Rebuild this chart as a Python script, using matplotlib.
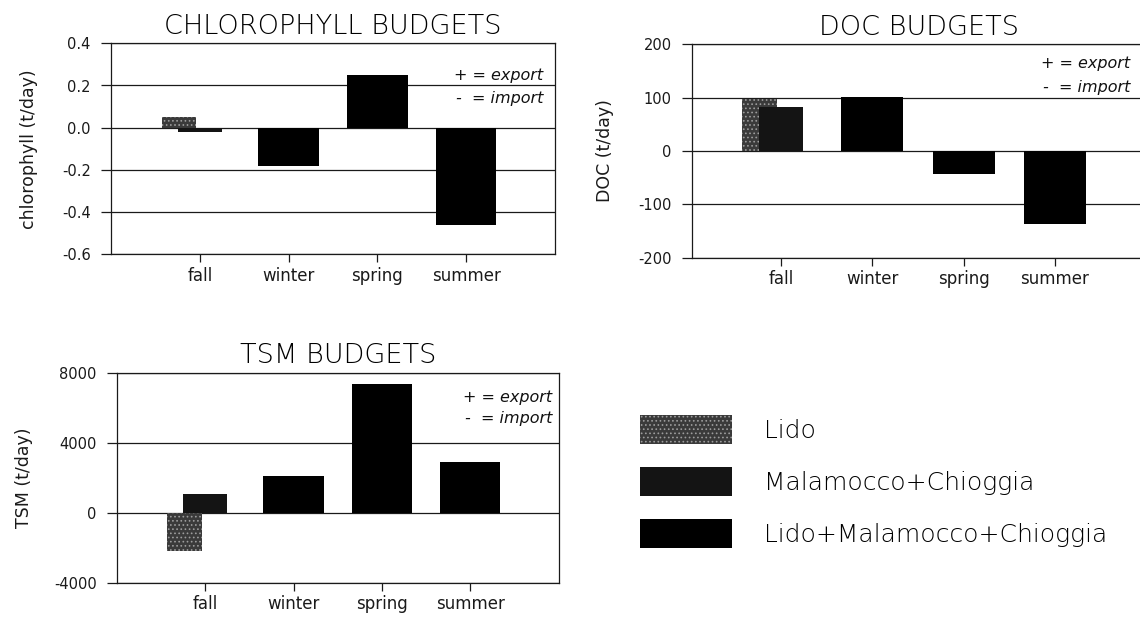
import numpy as np
import matplotlib
matplotlib.use("Agg")
import matplotlib.pyplot as plt
from matplotlib.patches import Patch

plt.rcParams["font.family"] = ["DejaVu Sans"]
plt.rcParams["hatch.linewidth"] = 0.7

# Seasonal budgets in t/day (+ = export, - = import); nan = no bar for that season
seasons = ["fall", "winter", "spring", "summer"]
series_names = ["Lido", "Malamocco+Chioggia", "Lido+Malamocco+Chioggia"]

chl_lido = [0.05, np.nan, np.nan, np.nan]
chl_malamocco_chioggia = [-0.02, np.nan, np.nan, np.nan]
chl_total = [np.nan, -0.18, 0.25, -0.46]
chl_ticks = [0.4, 0.2, 0.0, -0.2, -0.4, -0.6]
chl_tick_labels = ["0.4", "0.2", "0.0", "-0.2", "-0.4", "-0.6"]

doc_lido = [98, np.nan, np.nan, np.nan]
doc_malamocco_chioggia = [83, np.nan, np.nan, np.nan]
doc_total = [np.nan, 102, -44, -136]
doc_ticks = [200, 100, 0, -100, -200]
doc_tick_labels = ["200", "100", "0", "-100", "-200"]

tsm_lido = [-2200, np.nan, np.nan, np.nan]
tsm_malamocco_chioggia = [1050, np.nan, np.nan, np.nan]
tsm_total = [np.nan, 2100, 7350, 2900]
tsm_ticks = [8000, 4000, 0, -4000]
tsm_tick_labels = ["8000", "4000", "0", "-4000"]

# Bar styling
LIDO_STYLE = dict(facecolor="#3a3a3a", edgecolor="#9c9c9c", hatch="....", linewidth=0)
MC_STYLE = dict(facecolor="#141414", edgecolor="#141414", linewidth=0)
TOTAL_STYLE = dict(facecolor="#000000", edgecolor="#000000", linewidth=0)

W, H = 1140, 623
fig = plt.figure(figsize=(W / 100, H / 100), dpi=100)


def px_axes(left, top, right, bottom):
    return fig.add_axes([left / W, 1 - bottom / H, (right - left) / W, (bottom - top) / H])


def budget_panel(ax, title, ylabel, lido, mc, total, ticks, tick_labels,
                 xlim, note_x, note_y1, note_y2, ylabel_x):
    x = np.arange(len(seasons))
    ax.set_axisbelow(True)
    ax.bar(x - 0.235, lido, width=0.39, **LIDO_STYLE)
    ax.bar(x + 0.0, mc, width=0.49, **MC_STYLE)
    ax.bar(x, total, width=0.68, **TOTAL_STYLE)

    ax.set_xlim(*xlim)
    ax.set_ylim(min(ticks), max(ticks))
    ax.set_xticks(x, seasons)
    ax.set_yticks(ticks, tick_labels)
    ax.yaxis.grid(True, color="#1a1a1a", linewidth=0.9)
    ax.tick_params(axis="y", direction="out", length=7.5, width=0.9,
                   pad=7, labelsize=10.5, colors="#1a1a1a")
    ax.tick_params(axis="x", direction="out", length=6, width=0.9,
                   pad=3, labelsize=12, colors="#1a1a1a")
    for sp in ax.spines.values():
        sp.set_color("#1a1a1a")
        sp.set_linewidth(0.9)

    ax.set_title(title, fontsize=19.5, pad=7, color="#000000", fontweight="light")
    ax.set_ylabel(ylabel, fontsize=12.5, color="#1a1a1a")
    ax.yaxis.set_label_coords(ylabel_x, 0.5)

    ax.text(note_x, note_y1, "+ = export", transform=ax.transAxes, ha="right",
            va="baseline", fontsize=11.5, style="italic", color="#111111")
    ax.text(note_x, note_y2, "-  = import", transform=ax.transAxes, ha="right",
            va="baseline", fontsize=11.5, style="italic", color="#111111")


ax_chl = px_axes(111, 43.3, 555, 254.3)
budget_panel(ax_chl, "CHLOROPHYLL BUDGETS", "chlorophyll (t/day)",
             chl_lido, chl_malamocco_chioggia, chl_total, chl_ticks, chl_tick_labels,
             (-1, 4), 0.974, 0.826, 0.718, -0.165)

ax_doc = px_axes(691.7, 44.3, 1146, 257.7)
budget_panel(ax_doc, "DOC BUDGETS", "DOC (t/day)",
             doc_lido, doc_malamocco_chioggia, doc_total, doc_ticks, doc_tick_labels,
             (-0.98, 4.0), 0.965, 0.888, 0.778, -0.172)

ax_tsm = px_axes(116.7, 372.7, 558.7, 582.7)
budget_panel(ax_tsm, "TSM BUDGETS", "TSM (t/day)",
             tsm_lido, tsm_malamocco_chioggia, tsm_total, tsm_ticks, tsm_tick_labels,
             (-1, 4), 0.985, 0.862, 0.759, -0.19)

handles = [Patch(**LIDO_STYLE), Patch(**MC_STYLE), Patch(**TOTAL_STYLE)]
fig.legend(handles, series_names, loc="upper left",
           bbox_to_anchor=(640 / W, 1 - 415 / H), frameon=False,
           prop={"size": 18, "weight": "light"},
           handlelength=3.67, handleheight=1.4, labelspacing=0.93,
           handletextpad=1.28, borderpad=0, borderaxespad=0,
           labelcolor="#000000")

fig.savefig("out.png", dpi=100)
